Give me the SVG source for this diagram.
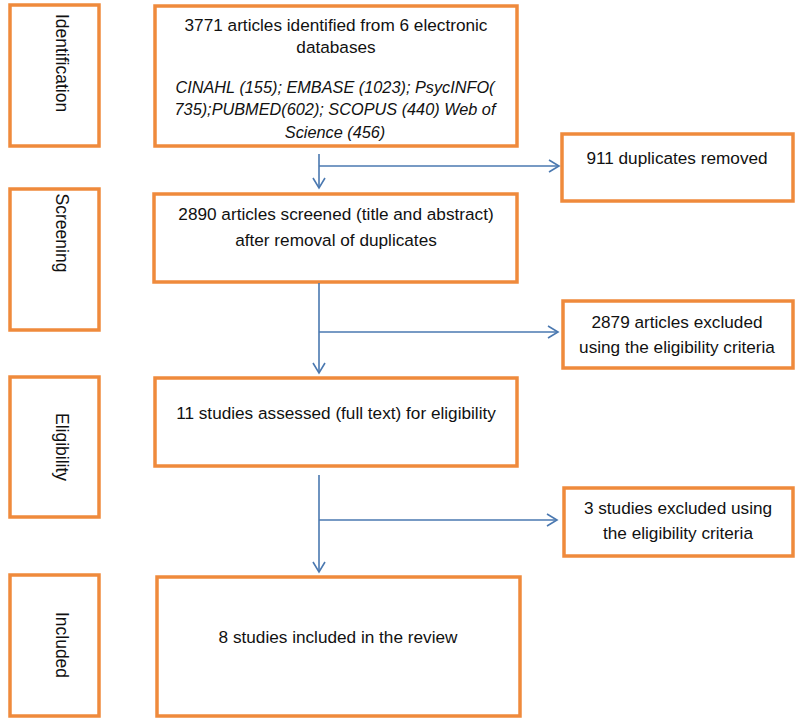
<svg xmlns="http://www.w3.org/2000/svg" width="800" height="722" viewBox="0 0 800 722">
<style>
.box{fill:#fff;stroke:#EF8A3C;stroke-width:3.5}
.t{font-family:"Liberation Sans",Arial,sans-serif;font-size:17.2px;fill:#111;text-anchor:middle}
.i{font-style:italic;font-size:16.3px}
.v{font-family:"Liberation Sans",Arial,sans-serif;font-size:17.5px;fill:#111;text-anchor:middle}
.c{fill:none;stroke:#4A78B0;stroke-width:1.6}
</style>
<defs>
<marker id="ah" markerWidth="14" markerHeight="14" refX="11" refY="7" orient="auto" markerUnits="userSpaceOnUse">
<path d="M1,1 L11,7 L1,13" fill="none" stroke="#4A78B0" stroke-width="1.6"/>
</marker>
</defs>
<rect width="800" height="722" fill="#fff"/>
<g id="stage-identification"><rect class="box" x="10" y="5" width="89" height="141"/><text class="v" transform="translate(62,63) rotate(90)" dy="6">Identification</text></g>
<g id="stage-screening"><rect class="box" x="10" y="189" width="89" height="141"/><text class="v" transform="translate(62,233) rotate(90)" dy="6">Screening</text></g>
<g id="stage-eligibility"><rect class="box" x="10" y="377" width="89" height="140"/><text class="v" transform="translate(62,447) rotate(90)" dy="6">Eligibility</text></g>
<g id="stage-included"><rect class="box" x="10" y="575" width="89" height="141"/><text class="v" transform="translate(62,645) rotate(90)" dy="6">Included</text></g>
<g id="identified"><rect class="box" x="155" y="6" width="362" height="140"/>
<text class="t" x="336" y="31">3771 articles identified from 6 electronic</text>
<text class="t" x="336" y="53">databases</text>
<text class="t i" x="335" y="93">CINAHL (155); EMBASE (1023); PsycINFO(</text>
<text class="t i" x="335" y="115">735);PUBMED(602); SCOPUS (440) Web of</text>
<text class="t i" x="335" y="138">Science (456)</text></g>
<g id="duplicates"><rect class="box" x="562" y="134" width="231" height="67"/><text class="t" x="677" y="164">911 duplicates removed</text></g>
<g id="screened"><rect class="box" x="154" y="194" width="363" height="88"/>
<text class="t" x="336" y="220">2890 articles screened (title and abstract)</text>
<text class="t" x="336" y="246">after removal of duplicates</text></g>
<g id="excluded1"><rect class="box" x="563" y="301" width="230" height="67"/>
<text class="t" x="677" y="328">2879 articles excluded</text>
<text class="t" x="677" y="353">using the eligibility criteria</text></g>
<g id="assessed"><rect class="box" x="155" y="378" width="362" height="88"/>
<text class="t" x="336" y="419">11 studies assessed (full text) for eligibility</text></g>
<g id="excluded2"><rect class="box" x="564" y="488" width="229" height="68"/>
<text class="t" x="678" y="514">3 studies excluded using</text>
<text class="t" x="678" y="539">the eligibility criteria</text></g>
<g id="included"><rect class="box" x="157" y="577" width="363" height="139"/>
<text class="t" x="338" y="643">8 studies included in the review</text></g>
<g id="connectors">
<path class="c" d="M319,154 V188" marker-end="url(#ah)"/>
<path class="c" d="M319,166 H559" marker-end="url(#ah)"/>
<path class="c" d="M319,283 V373" marker-end="url(#ah)"/>
<path class="c" d="M319,332 H558" marker-end="url(#ah)"/>
<path class="c" d="M319,475 V572" marker-end="url(#ah)"/>
<path class="c" d="M319,520 H557" marker-end="url(#ah)"/>
</g>
</svg>
